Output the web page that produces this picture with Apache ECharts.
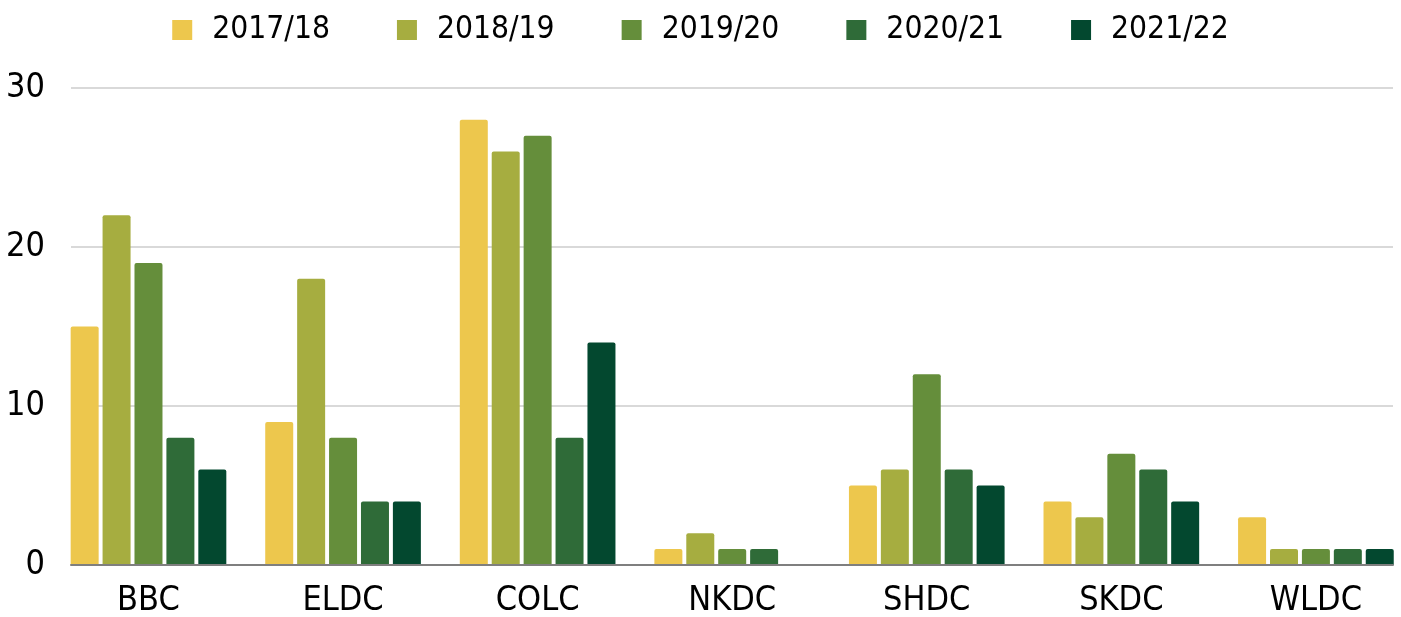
<!DOCTYPE html>
<html>
<head>
<meta charset="utf-8">
<script src="https://cdn.jsdelivr.net/npm/echarts@6/dist/echarts.min.js"></script>
<style>
html,body{margin:0;padding:0;background:#fff;}
#chart{width:1401px;height:617px;}
</style>
</head>
<body>
<div id="chart"></div>
<script>
const categories = ['BBC', 'ELDC', 'COLC', 'NKDC', 'SHDC', 'SKDC', 'WLDC'];
const seriesNames = ['2017/18', '2018/19', '2019/20', '2020/21', '2021/22'];
const v2017 = [15, 9, 28, 1, 5, 4, 3];
const v2018 = [22, 18, 26, 2, 6, 3, 1];
const v2019 = [19, 8, 27, 1, 12, 7, 1];
const v2020 = [8, 4, 8, 1, 6, 6, 1];
const v2021 = [6, 4, 14, null, 5, 4, 1];
const yTicks = [0, 10, 20, 30];

const colors = ['#EDC74D', '#A6AD40', '#658E3B', '#2F6B38', '#03482F'];
const values = [v2017, v2018, v2019, v2020, v2021];
const FONT = '"DejaVu Sans Condensed", "DejaVu Sans", sans-serif';

const chart = echarts.init(document.getElementById('chart'), null, {renderer: 'canvas'});
chart.setOption({
  animation: false,
  backgroundColor: '#ffffff',
  legend: {
    data: seriesNames,
    top: 9,
    left: 'center',
    itemWidth: 20,
    itemHeight: 20,
    itemGap: 67,
    icon: 'rect',
    textStyle: {fontFamily: FONT, fontSize: 31.5, color: '#000', padding: [0, 0, 0, 15]}
  },
  grid: [
    {left: 71, top: 88, width: 1322, height: 477, containLabel: false, outerBoundsMode: 'none'},
    {left: 51.2, top: 88, width: 1362, height: 477, containLabel: false, outerBoundsMode: 'none'}
  ],
  xAxis: [
    {
      type: 'category', gridIndex: 0, data: categories, z: 5,
      axisLine: {show: true, lineStyle: {color: '#7f7f7f', width: 2}},
      axisTick: {show: false}, axisLabel: {show: false}, splitLine: {show: false}
    },
    {
      type: 'category', gridIndex: 1, data: categories,
      axisLine: {show: false}, axisTick: {show: false}, splitLine: {show: false},
      axisLabel: {fontFamily: FONT, fontSize: 34, color: '#000', margin: 19}
    }
  ],
  yAxis: [
    {
      type: 'value', gridIndex: 0, min: yTicks[0], max: yTicks[yTicks.length - 1], interval: 10,
      axisLine: {show: false}, axisTick: {show: false},
      axisLabel: {fontFamily: FONT, fontSize: 34, color: '#000', margin: 26},
      splitLine: {lineStyle: {color: '#cccccc', width: 1.5}}
    },
    {
      type: 'value', gridIndex: 1, min: yTicks[0], max: yTicks[yTicks.length - 1], interval: 10,
      show: false, splitLine: {show: false}
    }
  ],
  series: seriesNames.map((name, i) => ({
    name: name,
    type: 'bar',
    xAxisIndex: 1,
    yAxisIndex: 1,
    data: values[i],
    barCategoryGap: '20%',
    barGap: '14%',
    itemStyle: {color: colors[i], borderWidth: 0, borderRadius: [2, 2, 0, 0]}
  }))
});
</script>
</body>
</html>
